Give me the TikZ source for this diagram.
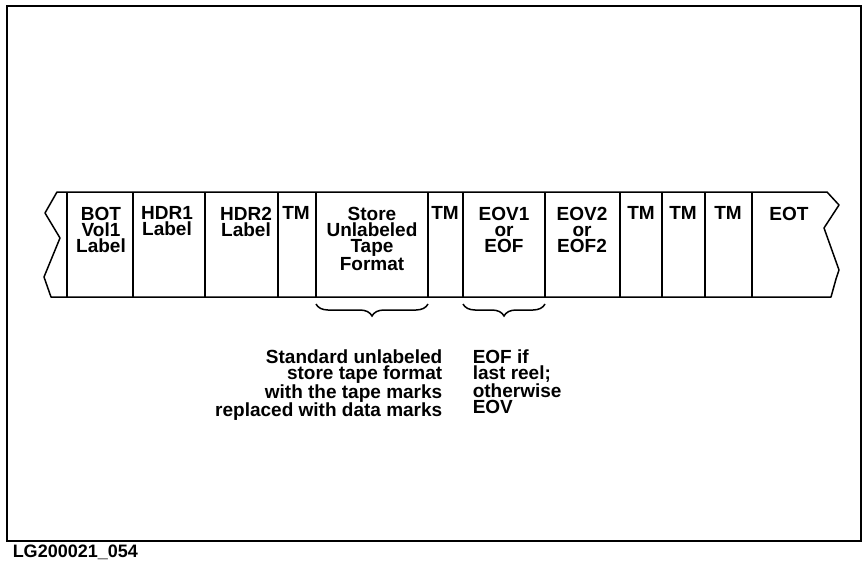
\documentclass[tikz,border=0pt]{standalone}
\usepackage{fontspec}
\setmainfont{Liberation Sans}
\usetikzlibrary{positioning, decorations.pathreplacing}

\begin{document}
\begin{tikzpicture}[x=1pt, y=-1pt, line width=1.5pt,
  lbl/.style={font=\fontsize{19}{16}\selectfont\bfseries, align=center, anchor=north, inner sep=0pt},
  note/.style={font=\fontsize{19}{16}\selectfont\bfseries, inner sep=0pt},
  brace/.style={decorate, decoration={brace, mirror, amplitude=12pt}}]
  \useasboundingbox (0,0) rectangle (864,562);
  \draw (7,6) rectangle (861,541);
  % tape with torn ends
  \draw[line join=round] (57,192) -- (45,213) -- (60,238) -- (44,277) -- (51,297)
        -- (831,297) -- (836,279) -- (839,270) -- (824,228) -- (839,205) -- (827,192) -- cycle;
  \foreach \x in {67,133,205,278,316,428,463,545,620,662,705,752}
    \draw (\x,192) -- (\x,297);
  % block labels
  \node[lbl] (bot)  at (101,206) {BOT\\Vol1\\Label};
  \node[lbl] (hdr1) at (167,206) {HDR1\\Label};
  \node[lbl] (hdr2) at (246,206) {HDR2\\Label};
  \node[lbl] (tm1)  at (296,206) {TM};
  \node[lbl] (store) at (372,206) {Store\\Unlabeled\\Tape\\Format};
  \node[lbl] (tm2)  at (445,206) {TM};
  \node[lbl] (eov1) at (504,206) {EOV1\\or\\EOF};
  \node[lbl] (eov2) at (582,206) {EOV2\\or\\EOF2};
  \node[lbl] (tm3)  at (641,206) {TM};
  \node[lbl] (tm4)  at (683,206) {TM};
  \node[lbl] (tm5)  at (728,206) {TM};
  \node[lbl] (eot)  at (789,206) {EOT};
  % braces and notes
  \coordinate (sl) at (316,304);
  \coordinate (sr) at (428,304);
  \coordinate (el) at (463,304);
  \coordinate (er) at (545,304);
  \draw[brace] (sl) -- (sr);
  \draw[brace] (el) -- (er);
  \node[note, anchor=north east, align=right] (stdnote) at (443,349)
    {Standard unlabeled\\store tape format\\with the tape marks\\replaced with data marks};
  \node[note, anchor=north west, align=left] (eofnote) at (472,349)
    {EOF if\\last reel;\\otherwise\\EOV};
  \node[anchor=west, inner sep=0pt, font=\fontsize{18}{18}\selectfont\bfseries] (figid) at (12,552) {LG200021\_054};
\end{tikzpicture}
\end{document}
